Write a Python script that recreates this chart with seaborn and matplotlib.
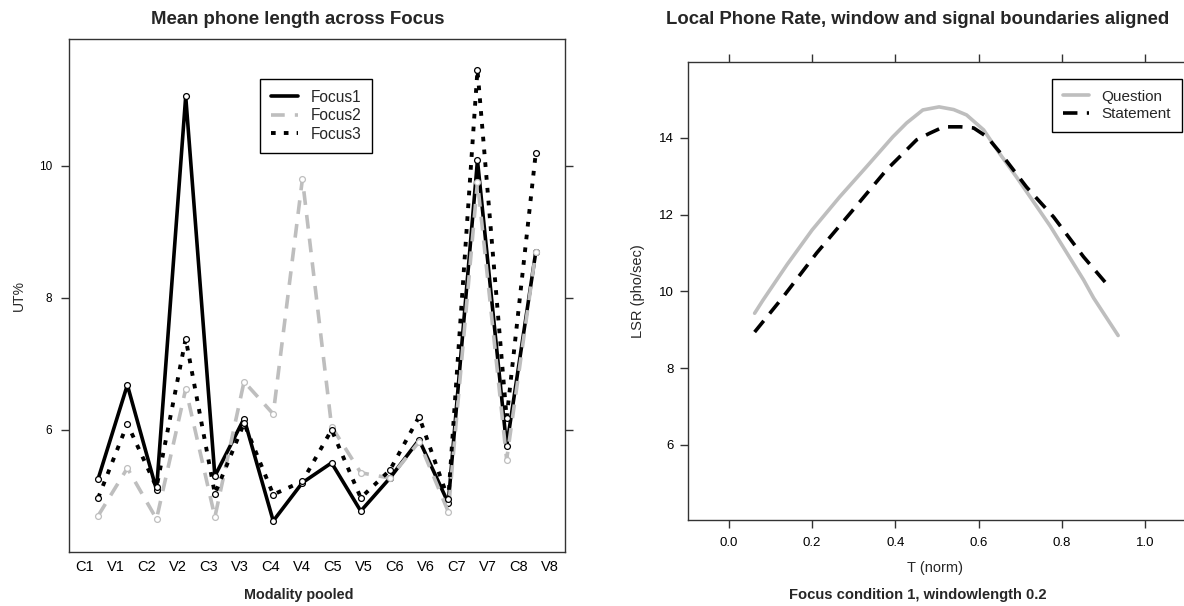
import numpy as np
import pandas as pd
import matplotlib
matplotlib.use("Agg")
import matplotlib.pyplot as plt
from matplotlib.lines import Line2D
import seaborn as sns

# ---------------- data ----------------
categories = ['C1', 'V1', 'C2', 'V2', 'C3', 'V3', 'C4', 'V4',
              'C5', 'V5', 'C6', 'V6', 'C7', 'V7', 'C8', 'V8']
focus1 = [5.26, 6.68, 5.09, 11.05, 5.30, 6.17, 4.62, 5.20,
          5.50, 4.77, 5.27, 5.85, 4.89, 10.08, 5.75, 8.70]
focus2 = [4.70, 5.42, 4.65, 6.62, 4.68, 6.73, 6.24, 9.80,
          6.05, 5.35, 5.27, 5.82, 4.76, 9.76, 5.55, 8.70]
focus3 = [4.97, 6.09, 5.13, 7.38, 5.03, 6.10, 5.02, 5.22,
          6.00, 4.97, 5.39, 6.20, 4.95, 11.45, 6.18, 10.20]

t_question = [0.062, 0.082, 0.14, 0.20, 0.266, 0.33, 0.394, 0.427, 0.466,
              0.505, 0.54, 0.571, 0.612, 0.65, 0.691, 0.772, 0.852, 0.876, 0.935]
lsr_question = [9.43, 9.77, 10.70, 11.60, 12.46, 13.24, 14.03, 14.39, 14.73,
                14.81, 14.74, 14.60, 14.21, 13.60, 12.98, 11.70, 10.30, 9.83, 8.85]
t_statement = [0.062, 0.13, 0.211, 0.298, 0.379, 0.451, 0.482, 0.516, 0.557,
               0.588, 0.62, 0.653, 0.715, 0.78, 0.852, 0.907, 0.915]
lsr_statement = [8.94, 9.85, 11.00, 12.12, 13.17, 13.95, 14.12, 14.29, 14.29,
                 14.26, 14.03, 13.60, 12.72, 11.94, 10.90, 10.20, 10.10]

# ---------------- style ----------------
sns.set_style("ticks")
plt.rcParams['font.family'] = ['Liberation Sans', 'DejaVu Sans']
GRAY = '#bebebe'
SPINE = '#333333'

W, H = 1184, 606
fig = plt.figure(figsize=(W / 100, H / 100), dpi=100)


def px_axes(x0, y0, x1, y1):
    return fig.add_axes([x0 / W, 1 - y1 / H, (x1 - x0) / W, (y1 - y0) / H])


# ---------------- left panel ----------------
ax1 = px_axes(69, 39, 565, 552)
df = pd.DataFrame({'pos': np.arange(1, len(categories) + 1),
                   'Focus1': focus1, 'Focus2': focus2, 'Focus3': focus3})

DASH2 = (3.8, 2.8)
DOT3 = (1.2, 2.1)
series_style = [
    ('Focus1', 'black', 2.6, None),
    ('Focus2', GRAY, 2.6, DASH2),
    ('Focus3', 'black', 2.8, DOT3),
]
for name, col, lw, dash in series_style:
    sns.lineplot(data=df, x='pos', y=name, ax=ax1, color=col, lw=lw,
                 marker='o', markersize=4.2, markerfacecolor='white',
                 markeredgecolor=col, markeredgewidth=0.9, legend=False)
    line = ax1.lines[-1]
    if dash is not None:
        line.set_dashes(dash)

ax1.set_xlim(0, 17)
ax1.set_ylim(4.15, 11.92)
ax1.set_yticks([6, 8, 10])
ax1.set_yticklabels(['6', '8', '10'])
n = len(categories)
ax1.set_xticks([(k + 0.5) * 17 / n for k in range(n)])
ax1.set_xticklabels(categories)
ax1.tick_params(axis='x', bottom=False, top=False, length=0, pad=5.5,
                labelsize=10.5, colors='black')
ax1.tick_params(axis='y', left=True, right=True, labelleft=True,
                labelright=False, direction='out', length=5.5, width=1.0,
                pad=6.5, labelsize=8.5, color=SPINE, labelcolor='black')
ax1.set_xlabel('')
ax1.set_ylabel('')
for s in ax1.spines.values():
    s.set_visible(True)
    s.set_color(SPINE)
    s.set_linewidth(1.0)

h1 = [Line2D([], [], color='black', lw=2.6),
      Line2D([], [], color=GRAY, lw=2.6, dashes=DASH2),
      Line2D([], [], color='black', lw=2.8, dashes=DOT3)]
leg1 = ax1.legend(h1, ['Focus1', 'Focus2', 'Focus3'], loc='upper left',
                  bbox_to_anchor=((260 - 69) / 496, 1 - (79 - 39) / 513),
                  borderaxespad=0, fontsize=11.2, handlelength=1.75,
                  handletextpad=0.8, borderpad=0.7, labelspacing=0.22,
                  fancybox=False, framealpha=1, edgecolor='black')
leg1.get_frame().set_linewidth(1.0)

fig.text(298 / W, 1 - 19 / H, 'Mean phone length across Focus',
         ha='center', va='center', fontsize=13.4, fontweight='bold')
fig.text(299 / W, 1 - 595 / H, 'Modality pooled',
         ha='center', va='center', fontsize=10.4, fontweight='bold')
fig.text(19 / W, 1 - 295 / H, 'UT%', ha='center', va='center',
         rotation=90, fontsize=10)

# ---------------- right panel ----------------
ax2 = px_axes(688, 62, 1186, 520)
DASH_S = (4.0, 2.6)
sns.lineplot(x=t_question, y=lsr_question, ax=ax2, color=GRAY, lw=2.6,
             legend=False)
sns.lineplot(x=t_statement, y=lsr_statement, ax=ax2, color='black', lw=2.6,
             legend=False)
ax2.lines[-1].set_dashes(DASH_S)

ax2.set_xlim(-0.098, 1.098)
ax2.set_ylim(4.04, 15.98)
ax2.set_xticks([0.0, 0.2, 0.4, 0.6, 0.8, 1.0])
ax2.set_xticklabels(['0.0', '0.2', '0.4', '0.6', '0.8', '1.0'])
ax2.set_yticks([6, 8, 10, 12, 14])
ax2.set_yticklabels(['6', '8', '10', '12', '14'])
ax2.tick_params(axis='x', bottom=True, top=True, labelbottom=True,
                labeltop=False, direction='out', length=5.5, width=1.0,
                pad=6.5, labelsize=9.5, color=SPINE, labelcolor='black')
ax2.tick_params(axis='y', left=True, right=True, labelleft=True,
                labelright=False, direction='out', length=5.5, width=1.0,
                pad=5, labelsize=9.5, color=SPINE, labelcolor='black')
ax2.set_xlabel('')
ax2.set_ylabel('')
for s in ax2.spines.values():
    s.set_visible(True)
    s.set_color(SPINE)
    s.set_linewidth(1.0)

h2 = [Line2D([], [], color=GRAY, lw=2.6),
      Line2D([], [], color='black', lw=2.6, dashes=DASH_S)]
leg2 = ax2.legend(h2, ['Question', 'Statement'], loc='upper left',
                  bbox_to_anchor=((1052 - 688) / 498, 1 - (79 - 62) / 458),
                  borderaxespad=0, fontsize=11.0, handlelength=1.75,
                  handletextpad=0.8, borderpad=0.7, labelspacing=0.22,
                  fancybox=False, framealpha=1, edgecolor='black')
leg2.get_frame().set_linewidth(1.0)

fig.text(918 / W, 1 - 20 / H,
         'Local Phone Rate, window and signal boundaries aligned',
         ha='center', va='center', fontsize=13.3, fontweight='bold')
fig.text(935 / W, 1 - 568 / H, 'T (norm)', ha='center', va='center',
         fontsize=10.5)
fig.text(918 / W, 1 - 595 / H, 'Focus condition 1, windowlength 0.2',
         ha='center', va='center', fontsize=10.6, fontweight='bold')
fig.text(638 / W, 1 - 291 / H, 'LSR (pho/sec)', ha='center', va='center',
         rotation=90, fontsize=10.5)

fig.savefig('out.png', dpi=100)
